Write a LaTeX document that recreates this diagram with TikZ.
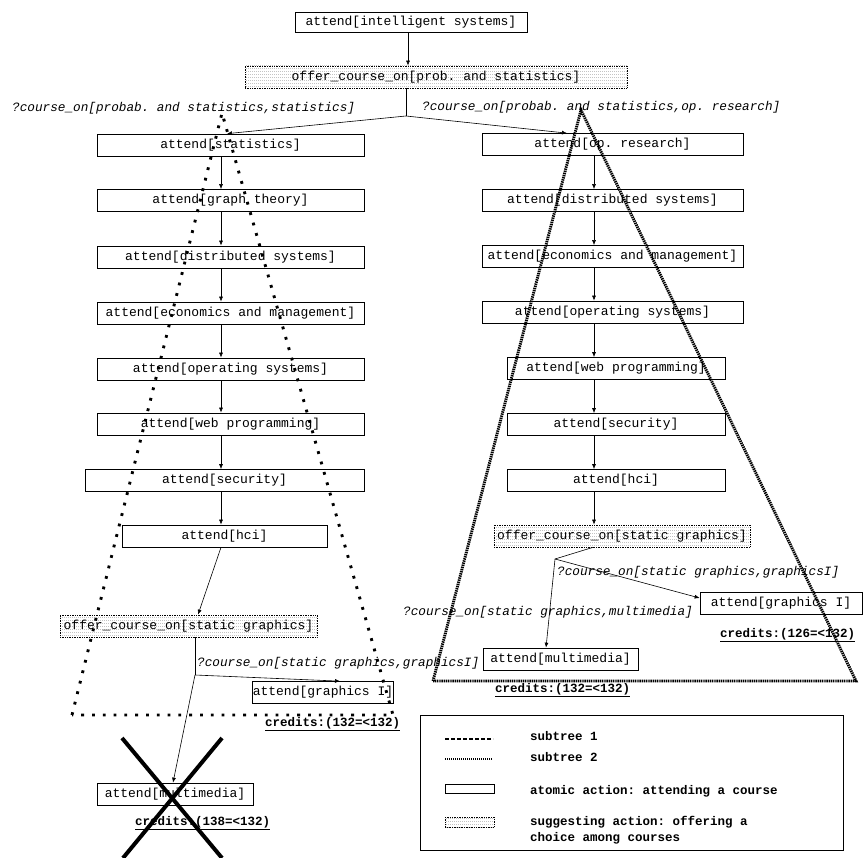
\documentclass[tikz,border=0pt]{standalone}
\usepackage{fontspec}
\setmonofont{Liberation Mono}
\usetikzlibrary{arrows.meta,patterns}

% light stipple used for the "suggesting" actions
\pgfdeclarepatternformonly{stipple}{\pgfqpoint{0pt}{0pt}}{\pgfqpoint{2pt}{3pt}}{\pgfqpoint{2pt}{3pt}}{%
  \pgfpathrectangle{\pgfqpoint{0pt}{0pt}}{\pgfqpoint{1pt}{0.8pt}}\pgfusepath{fill}}

\begin{document}
\begin{tikzpicture}[x=1pt,y=-1pt,
  every node/.style={font=\ttfamily\fontsize{13}{15}\selectfont, inner sep=0pt},
  act/.style={draw, line width=0.7pt, fill=white, minimum height=22pt},
  sugg/.style={draw, line width=0.7pt, densely dotted, pattern=stipple, pattern color=black!55, minimum height=22pt},
  choice/.style={font=\ttfamily\itshape\fontsize{12.7}{15}\selectfont, anchor=west},
  credit/.style={font=\ttfamily\bfseries\fontsize{12.5}{15}\selectfont, anchor=west},
  legtext/.style={font=\ttfamily\bfseries\fontsize{12.5}{16}\selectfont, anchor=west, align=left},
  arr/.style={line width=0.6pt, -{Latex[length=5pt,width=4pt]}},
  link/.style={line width=0.6pt},
  subone/.style={line width=2.9pt, dash pattern=on 2.8pt off 8pt},
  subtwo/.style={line width=2.9pt, dash pattern=on 1.4pt off 0.8pt},
  cross/.style={line width=4pt}]
\useasboundingbox (0,0) rectangle (864,858);

% ---- root and first choice ----
\node[act, minimum width=232pt, minimum height=20pt] (is) at (411,22) {attend[intelligent systems]};
\node[sugg, minimum width=382pt] (op1) at (436,77) {offer\_course\_on[prob. and statistics]};
\coordinate (tx) at (408,0);
\coordinate (s0) at (406,116);
\node[choice] (c1) at (12,108) {?course\_on[probab. and statistics,statistics]};
\node[choice] (c2) at (422,107) {?course\_on[probab. and statistics,op. research]};

% ---- left branch ----
\node[act, minimum width=267pt] (L1) at (230.5,145) {attend[statistics]};
\node[act, minimum width=267pt] (L2) at (230.5,200.5) {attend[graph theory]};
\node[act, minimum width=267pt] (L3) at (230.5,257) {attend[distributed systems]};
\node[act, minimum width=267pt] (L4) at (230.5,313) {attend[economics and management]};
\node[act, minimum width=267pt] (L5) at (230.5,369) {attend[operating systems]};
\node[act, minimum width=267pt] (L6) at (230.5,424) {attend[web programming]};
\node[act, minimum width=279pt] (L7) at (224.5,480.5) {attend[security]};
\node[act, minimum width=205pt] (L8) at (224.5,536) {attend[hci]};
\node[sugg, minimum width=257pt] (L9) at (188.5,626) {offer\_course\_on[static graphics]};
\node[act, minimum width=140pt] (L10) at (323,692.5) {attend[graphics I]};
\node[act, minimum width=156pt] (L11) at (175,794) {attend[multimedia]};
\coordinate (lx) at (221,0);
\coordinate (ls) at (195,675);
\node[choice] (c3) at (197,663) {?course\_on[static graphics,graphicsI]};

% ---- right branch ----
\node[act, minimum width=261pt] (R1) at (612.5,144.5) {attend[op. research]};
\node[act, minimum width=261pt] (R2) at (612.5,200.5) {attend[distributed systems]};
\node[act, minimum width=261pt] (R3) at (612.5,256.5) {attend[economics and management]};
\node[act, minimum width=261pt] (R4) at (612.5,312) {attend[operating systems]};
\node[act, minimum width=218pt] (R5) at (616,368.5) {attend[web programming]};
\node[act, minimum width=218pt] (R6) at (616,424.5) {attend[security]};
\node[act, minimum width=218pt] (R7) at (616,480.5) {attend[hci]};
\node[sugg, minimum width=256pt] (R8) at (622,536) {offer\_course\_on[static graphics]};
\node[act, minimum width=162pt] (R9) at (781,603.5) {attend[graphics I]};
\node[act, minimum width=155pt] (R10) at (560.5,659) {attend[multimedia]};
\coordinate (rx) at (594,0);
\coordinate (rs) at (555,559);
\node[choice] (c4) at (557,572) {?course\_on[static graphics,graphicsI]};
\node[choice, anchor=east] (c5) at (693,612) {?course\_on[static graphics,multimedia]};

% ---- connectors ----
\draw[arr] (is.south -| tx) -- (op1.north -| tx);
\draw[link] (op1.south -| s0) -- (s0);
\draw[arr] (s0) -- ([xshift=-3.5pt]L1.north);
\draw[arr] (s0) -- ([xshift=-45.5pt]R1.north);

\foreach \a/\b in {L1/L2,L2/L3,L3/L4,L4/L5,L5/L6,L6/L7,L7/L8}
  \draw[arr] (\a.south -| lx) -- (\b.north -| lx);
\draw[arr] (L8.south -| lx) -- ([xshift=9.5pt]L9.north);
\draw[link] ([xshift=6.5pt]L9.south) -- (ls);
\draw[arr] (ls) -- ([xshift=17pt]L10.north);
\draw[arr] (ls) -- ([xshift=-2pt]L11.north);

\foreach \a/\b in {R1/R2,R2/R3,R3/R4,R4/R5,R5/R6,R6/R7,R7/R8}
  \draw[arr] (\a.south -| rx) -- (\b.north -| rx);
\draw[link] ([xshift=-29pt]R8.south) -- (rs);
\draw[arr] (rs) -- ([yshift=5.5pt]R9.west);
\draw[arr] (rs) -- ([xshift=-14.5pt]R10.north);

% ---- credit sums ----
\node[credit] (k1) at (265,724) {\underline{credits:(132=<132)}};
\node[credit] (k2) at (720,635) {\underline{credits:(126=<132)}};
\node[credit] (k3) at (495,690) {\underline{credits:(132=<132)}};
\node[credit] (k4) at (135,823) {\underline{credits:(138=<132)}};

% ---- subtrees ----
\coordinate (a1) at (222,113);
\coordinate (b1l) at (72,715);
\coordinate (b1r) at (393,715);
\draw[subone] (b1l) -- (a1) -- (b1r) -- cycle;
\coordinate (a2) at (581,110);
\coordinate (b2l) at (433,681);
\coordinate (b2r) at (856,681);
\draw[subtwo] (b2l) -- (a2) -- (b2r) -- cycle;

% ---- rejected plan ----
\draw[cross] (122,738) -- (222,858);
\draw[cross] (222,738) -- (123,858);

% ---- legend ----
\draw[line width=0.7pt] (420,715) rectangle (843,850);
\draw[line width=2pt, dash pattern=on 4pt off 2pt] (445,739) -- (493,739);
\node[legtext] (t1) at (530,736) {subtree 1};
\draw[line width=1.6pt, dash pattern=on 1pt off 1pt] (445,759) -- (493,759);
\node[legtext] (t2) at (530,757) {subtree 2};
\draw[line width=0.7pt] (445,784) rectangle (494,793);
\node[legtext] (t3) at (530,791) {atomic action: attending a course};
\draw[line width=0.7pt, densely dotted, pattern=stipple, pattern color=black!55] (445,817) rectangle (494,827);
\node[legtext, anchor=north west] (t4) at (530,816) {suggesting action: offering a\\choice among courses};
\end{tikzpicture}
\end{document}
